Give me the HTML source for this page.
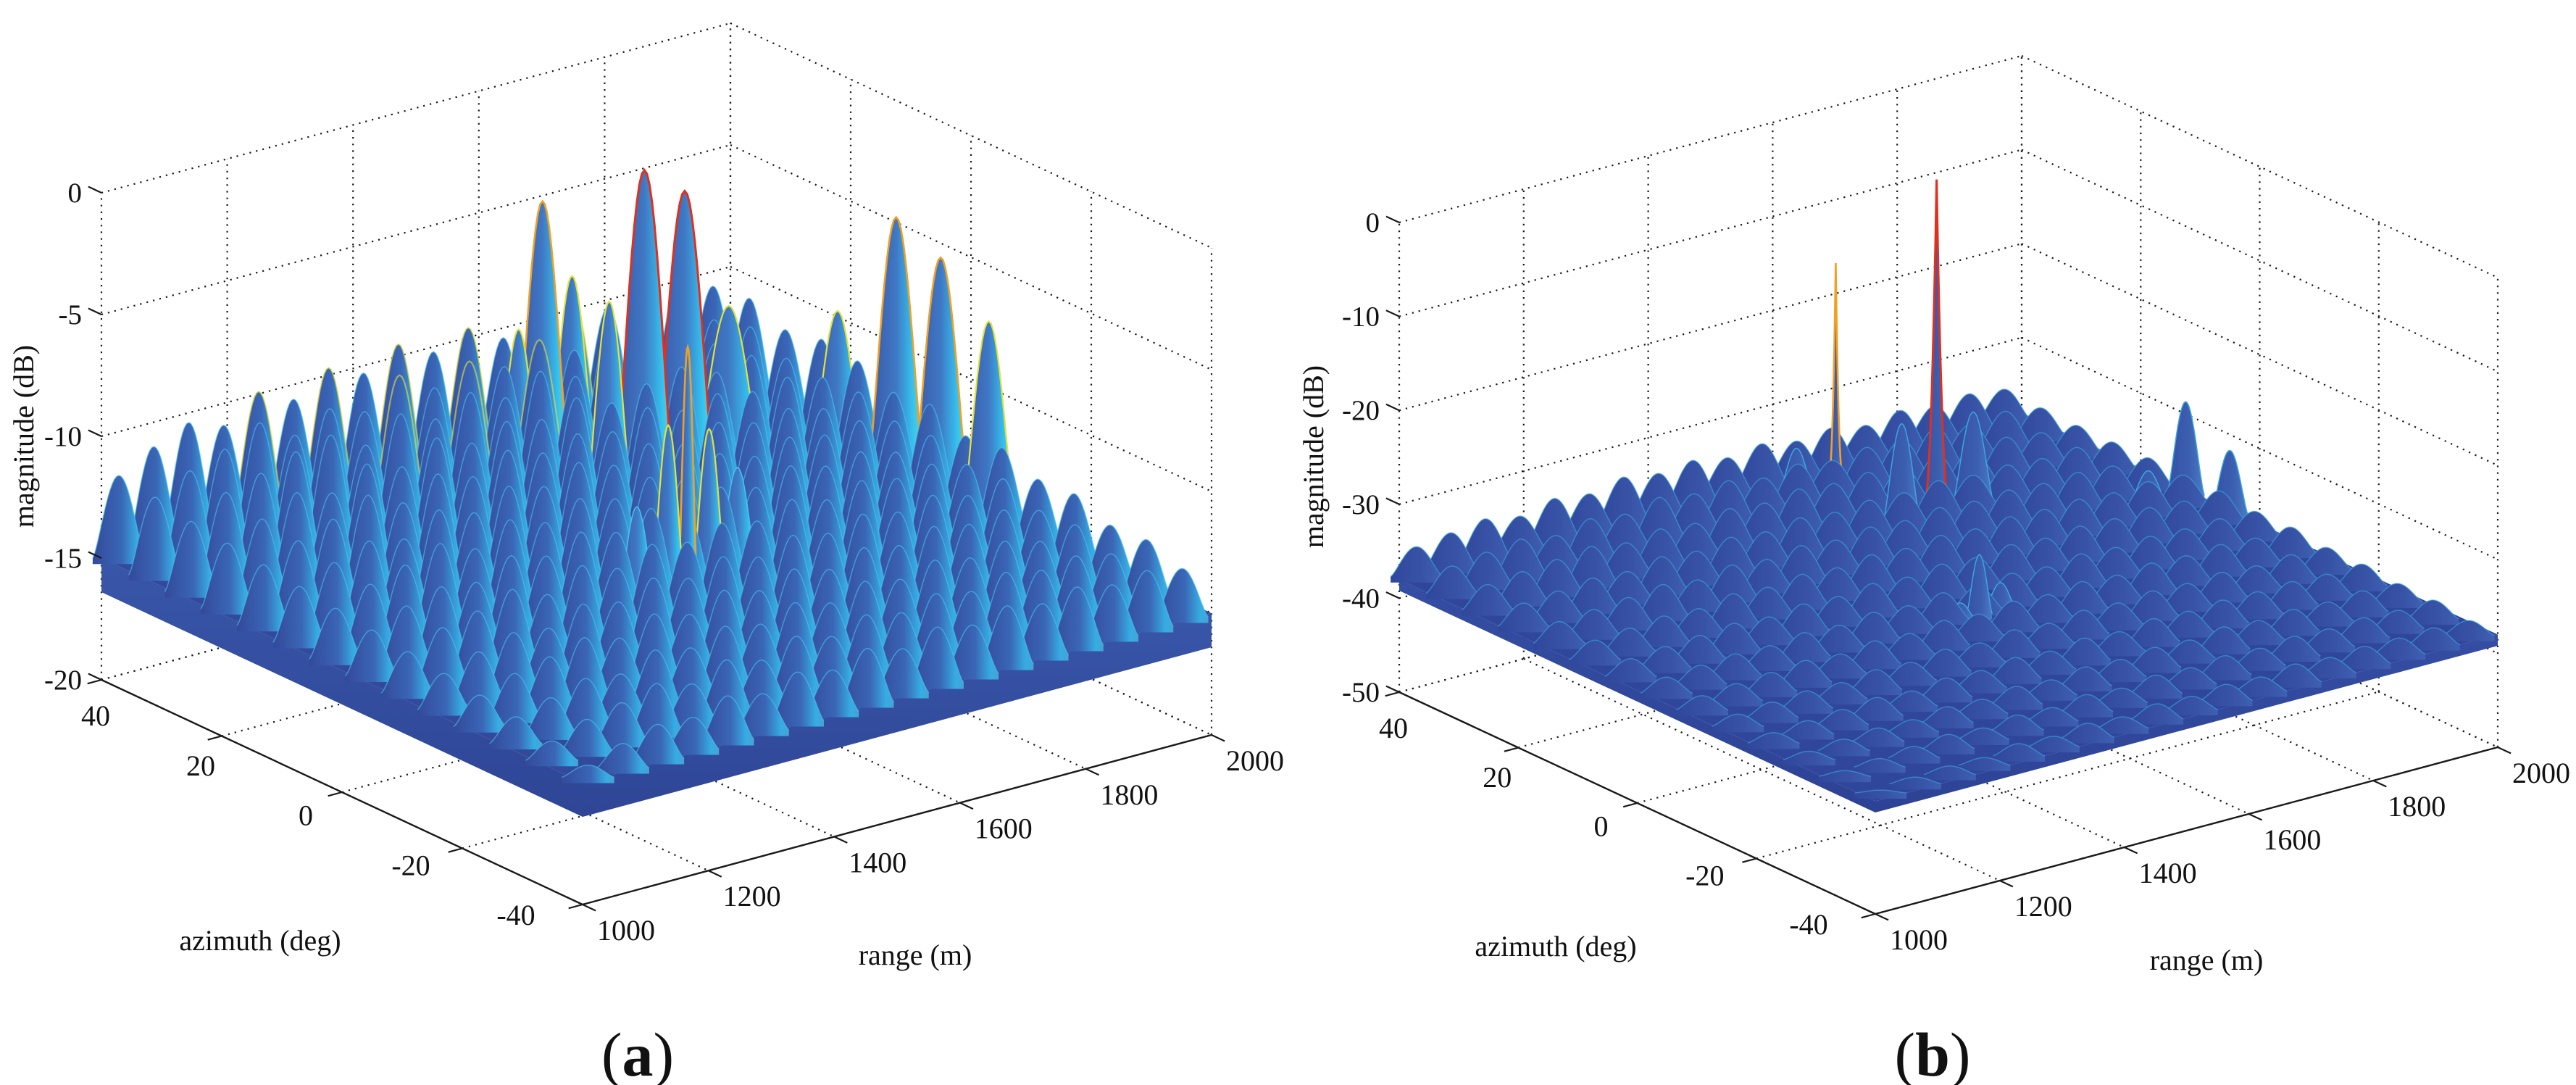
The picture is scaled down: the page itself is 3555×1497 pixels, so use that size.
<!DOCTYPE html>
<html><head><meta charset="utf-8">
<style>
html,body{margin:0;padding:0;background:#fff;}
svg{display:block;}
text{font-family:"Liberation Serif",serif;fill:#111;}
</style></head>
<body>
<svg id="fig" width="3555" height="1497" viewBox="0 0 3555 1497" xmlns="http://www.w3.org/2000/svg">
<defs>
<linearGradient id="gLowA" x1="0" y1="0" x2="1" y2="0">
<stop offset="0" stop-color="#34499a"/><stop offset="0.55" stop-color="#3a66b6"/><stop offset="0.85" stop-color="#36ade3"/><stop offset="1" stop-color="#45a2d4"/></linearGradient>
<linearGradient id="gHighA" x1="0" y1="0" x2="1" y2="0">
<stop offset="0" stop-color="#3a55a6"/><stop offset="0.5" stop-color="#3f78c4"/><stop offset="0.8" stop-color="#34c4f0"/><stop offset="1" stop-color="#8ccfa0"/></linearGradient>
<linearGradient id="gLowB" x1="0" y1="0" x2="1" y2="0">
<stop offset="0" stop-color="#30479b"/><stop offset="0.6" stop-color="#3853a6"/><stop offset="1" stop-color="#3f60b2"/></linearGradient>
<linearGradient id="gHighB" x1="0" y1="0" x2="1" y2="0">
<stop offset="0" stop-color="#3550a4"/><stop offset="0.6" stop-color="#3c5fb0"/><stop offset="1" stop-color="#4a7cc4"/></linearGradient>
<linearGradient id="gFaceA" x1="0" y1="0" x2="0" y2="1">
<stop offset="0" stop-color="#3856a8"/><stop offset="1" stop-color="#2f4596"/></linearGradient>
<linearGradient id="gFaceB" x1="0" y1="0" x2="0" y2="1">
<stop offset="0" stop-color="#344ea3"/><stop offset="1" stop-color="#2d4295"/></linearGradient>
</defs>
</svg>
<script>
// ---------- data ----------
const zTicksA = [-20, -15, -10, -5, 0];
const zTicksB = [-50, -40, -30, -20, -10, 0];
const azTicks = [-40, -20, 0, 20, 40];
const rangeTicks = [1000, 1200, 1400, 1600, 1800, 2000];

const clutterAzA = [40, 34, 28, 22, 16, 10, 4, -2, -8, -14, -20, -26, -32, -38];
const clutterRowsA = [
 [-11.8,-11.0,-10.4,-10.9,-9.9,-10.6,-9.7,-10.3,-9.5,-10.2,-9.6,-10.4,-9.9,-9.6,-10.3,-10.7,-10.1,-10.6],
 [-12.0,-11.3,-10.8,-10.1,-11.0,-10.3,-10.8,-9.7,-10.6,-9.9,-10.5,-9.8,-10.6,-10.1,-10.7,-10.2,-10.9,-10.4],
 [-12.3,-11.5,-11.1,-10.6,-10.3,-11.1,-10.2,-10.8,-10.1,-10.7,-10.0,-10.6,-10.3,-10.9,-10.4,-10.8,-10.5,-11.0],
 [-12.5,-11.9,-11.2,-11.6,-10.8,-11.3,-10.5,-11.1,-10.6,-10.9,-10.4,-11.0,-10.6,-10.3,-10.9,-10.6,-11.1,-10.7],
 [-12.7,-12.1,-11.6,-11.0,-11.7,-10.9,-11.4,-10.7,-11.2,-10.8,-11.1,-10.5,-11.0,-10.7,-11.0,-10.8,-11.2,-10.9],
 [-12.9,-12.3,-11.8,-12.1,-11.3,-11.8,-11.1,-11.5,-10.9,-11.4,-10.9,-11.3,-10.8,-11.2,-11.0,-11.4,-11.1,-11.5],
 [-13.1,-12.5,-12.1,-11.6,-12.2,-11.4,-11.9,-11.3,-11.7,-11.2,-11.6,-11.0,-11.5,-11.1,-11.4,-11.2,-11.6,-11.3],
 [-13.3,-12.7,-12.3,-12.5,-11.8,-12.2,-11.6,-12.0,-11.4,-11.9,-11.3,-11.7,-11.2,-11.6,-11.4,-11.8,-11.5,-11.9],
 [-13.5,-12.9,-12.6,-12.1,-12.7,-11.9,-12.4,-11.8,-12.1,-11.7,-12.0,-11.5,-11.9,-11.5,-11.8,-11.6,-12.0,-11.7],
 [-13.7,-13.2,-12.8,-13.0,-12.4,-12.7,-12.1,-12.5,-12.0,-12.4,-11.9,-12.2,-11.8,-12.1,-11.8,-12.2,-11.9,-12.3],
 [-13.9,-13.4,-13.1,-12.7,-13.1,-12.5,-12.9,-12.3,-12.7,-12.2,-12.6,-12.1,-12.4,-12.0,-12.3,-12.1,-12.5,-12.2],
 [-14.1,-13.7,-13.3,-13.5,-12.9,-13.2,-12.7,-13.0,-12.5,-12.9,-12.4,-12.7,-12.3,-12.6,-12.3,-12.7,-12.4,-12.8],
 [-14.4,-13.9,-13.6,-13.2,-13.6,-13.0,-13.4,-12.8,-13.2,-12.7,-13.0,-12.6,-12.9,-12.5,-12.8,-12.6,-12.9,-12.7],
 [-14.7,-14.2,-13.8,-13.9,-13.4,-13.7,-13.2,-13.5,-13.0,-13.4,-12.9,-13.2,-12.8,-13.1,-12.8,-13.1,-12.9,-13.2]
];
const peakRangeA = [1663, 1696, 1760, 1710, 1640, 1625, 1830, 1990, 1990, 1990, 1960, 1521, 1490, 1555, 1440, 1600];
const peakAzA    = [36, 22.5, 22.5, 36, 22.5, 36, 22.5, 11.4, 4, -4, 18, -3, -3, -3, -3, -3];
const peakDbA    = [-4.5, -1.9, -3.2, -7.9, -6.9, -9.5, -8.4, -4.6, -5.4, -7.1, -9.0, -5.0, -8.0, -8.6, -11.0, -10.5];
const peakWidthA = [70, 80, 80, 60, 60, 55, 90, 75, 75, 70, 70, 25, 45, 45, 50, 55];

const clutterAzB = [40, 34, 28, 22, 16, 10, 4, -2, -8, -14, -20, -26, -32, -38];
const clutterRowsB = [
 [-35.0,-34.5,-34.0,-34.7,-33.8,-34.3,-33.5,-34.1,-33.7,-34.4,-33.9,-34.6,-34.2,-34.9,-34.3,-34.8,-34.5,-35.0],
 [-35.3,-34.8,-34.4,-35.0,-34.2,-34.7,-33.9,-34.5,-34.1,-34.8,-34.3,-34.9,-34.5,-34.7,-34.4,-35.0,-34.6,-35.2],
 [-35.5,-35.1,-34.8,-34.4,-35.0,-34.5,-34.9,-34.3,-34.7,-34.2,-34.6,-34.4,-34.8,-34.5,-35.0,-34.6,-35.1,-35.3],
 [-35.7,-35.4,-35.0,-35.3,-34.7,-35.1,-34.6,-35.0,-34.5,-34.9,-34.6,-34.8,-34.5,-34.9,-34.8,-35.1,-34.9,-35.3],
 [-35.9,-35.6,-35.3,-34.9,-35.4,-34.8,-35.2,-34.7,-35.1,-34.7,-35.0,-34.6,-34.9,-34.7,-35.0,-34.8,-35.1,-35.2],
 [-36.1,-35.8,-35.5,-35.7,-35.1,-35.4,-35.0,-35.3,-34.9,-35.2,-34.8,-35.1,-34.8,-35.0,-34.9,-35.2,-35.0,-35.3],
 [-36.3,-36.0,-35.8,-35.5,-35.8,-35.4,-35.6,-35.2,-35.5,-35.1,-35.4,-35.0,-35.3,-35.0,-35.2,-35.0,-35.3,-35.2],
 [-36.5,-36.2,-36.0,-36.1,-35.7,-35.9,-35.5,-35.8,-35.4,-35.7,-35.3,-35.6,-35.2,-35.5,-35.3,-35.5,-35.4,-35.6],
 [-36.7,-36.4,-36.2,-35.9,-36.2,-35.8,-36.0,-35.6,-35.9,-35.5,-35.8,-35.4,-35.7,-35.4,-35.6,-35.4,-35.7,-35.5],
 [-36.9,-36.6,-36.4,-36.5,-36.1,-36.3,-35.9,-36.2,-35.8,-36.1,-35.7,-35.9,-35.6,-35.8,-35.6,-35.9,-35.7,-35.9],
 [-37.1,-36.8,-36.6,-36.3,-36.6,-36.2,-36.4,-36.0,-36.3,-35.9,-36.2,-35.8,-36.0,-35.8,-35.9,-35.8,-36.0,-35.9],
 [-37.3,-37.0,-36.8,-36.9,-36.5,-36.7,-36.3,-36.6,-36.2,-36.4,-36.1,-36.3,-35.9,-36.2,-36.0,-36.2,-36.0,-36.2],
 [-37.6,-37.3,-37.0,-36.7,-37.0,-36.6,-36.8,-36.4,-36.7,-36.3,-36.5,-36.2,-36.4,-36.1,-36.3,-36.1,-36.3,-36.2],
 [-37.9,-37.5,-37.3,-37.4,-36.9,-37.1,-36.7,-37.0,-36.6,-36.8,-36.5,-36.7,-36.3,-36.6,-36.4,-36.5,-36.4,-36.6]
];
const peakRangeB = [1663, 1696, 1640, 1755, 1710, 1600, 1990, 1930, 1990, 1521, 1490, 1555];
const peakAzB    = [36, 22.5, 22.5, 22.5, 36, 36, 11.4, 11.4, 4, -3, -3, -3];
const peakDbB    = [-14.9, -2.6, -27.6, -28.4, -36.4, -33.5, -28.2, -34.5, -31.2, -31.9, -36.5, -35.5];
const peakWidthB = [22, 40, 50, 55, 50, 45, 50, 50, 50, 34, 40, 40];

// ---------- rendering ----------
const NS = 'http://www.w3.org/2000/svg';
const svg = document.getElementById('fig');
function mk(tag, parent) { const e = document.createElementNS(NS, tag); parent.appendChild(e); return e; }

function makeProj(P) {
  return function (r, az, z) {
    const a = (r - 1000) / 1000, b = (40 - az) / 80, zf = (z - P.zmin) / (P.zmax - P.zmin);
    return [P.L[0] + a * P.R[0] + b * P.A[0], P.L[1] + a * P.R[1] + b * P.A[1] - zf * P.H];
  };
}

function line(g, p, q, dotted, w) {
  const l = mk('line', g);
  l.setAttribute('x1', p[0].toFixed(1)); l.setAttribute('y1', p[1].toFixed(1));
  l.setAttribute('x2', q[0].toFixed(1)); l.setAttribute('y2', q[1].toFixed(1));
  l.setAttribute('stroke', '#1a1a1a');
  l.setAttribute('stroke-width', w || 2.2);
  if (dotted) l.setAttribute('stroke-dasharray', '2.2 7');
  return l;
}

function text(g, x, y, s, size, anchor) {
  const t = mk('text', g);
  t.setAttribute('x', x.toFixed(1)); t.setAttribute('y', y.toFixed(1));
  t.setAttribute('font-size', size);
  t.setAttribute('text-anchor', anchor || 'middle');
  t.textContent = s;
  return t;
}

function poly(g, pts, fill) {
  const p = mk('path', g);
  p.setAttribute('d', 'M' + pts.map(q => q[0].toFixed(1) + ',' + q[1].toFixed(1)).join('L') + 'Z');
  p.setAttribute('fill', fill);
  return p;
}

function drawPanel(P, zTicks, clAz, clRows, pr, pa, pd, pw, name) {
  const proj = makeProj(P);
  const g = mk('g', svg);
  
  

  const grid = mk('g', g);
  
  
  zTicks.forEach(z => {
    line(grid, proj(1000, 40, z), proj(2000, 40, z), true);
    line(grid, proj(2000, 40, z), proj(2000, -40, z), true);
  });
  rangeTicks.forEach(r => {
    line(grid, proj(r, 40, P.zmin), proj(r, 40, P.zmax), true);
    line(grid, proj(r, 40, P.zmin), proj(r, -40, P.zmin), true);
  });
  azTicks.forEach(az => {
    line(grid, proj(2000, az, P.zmin), proj(2000, az, P.zmax), true);
    line(grid, proj(1000, az, P.zmin), proj(2000, az, P.zmin), true);
  });

  const surf = mk('g', g);
  
  
  const top = P.slabTop, bot = P.slabBot;
  const topFace = poly(surf, [proj(1000, 40, top), proj(2000, 40, top), proj(2000, -40, top), proj(1000, -40, top)], P.topColor);
  
  
  const leftFace = poly(surf, [proj(1000, 40, top), proj(1000, -40, top), proj(1000, -40, bot), proj(1000, 40, bot)], P.faceColor);
  
  
  const rightFace = poly(surf, [proj(1000, -40, top), proj(2000, -40, top), proj(2000, -40, bot), proj(1000, -40, bot)], P.faceColor);
  
  

  const lobes = [];
  clAz.forEach((az, ri) => {
    const row = clRows[ri], n = row.length;
    const step = 1000 / n;
    row.forEach((db, i) => {
      lobes.push({ r: 1000 + (i + 0.5) * step, az: az, db: db, hw: 0.75 * step * P.R[0] / 1000, peak: false });
    });
  });
  pr.forEach((r, i) => {
    lobes.push({ r: r, az: pa[i], db: pd[i], hw: pw[i] * P.R[0] / 1000 / 2 * 1.2, peak: true });
  });
  lobes.forEach(o => { o.depth = (o.r - 1000) / 1000 + (o.az + 40) / 80; });
  lobes.sort((u, v) => v.depth - u.depth);

  lobes.forEach(o => {
    const c = proj(o.r, o.az, top - 0.2);
    const ty = proj(o.r, o.az, o.db)[1];
    const h = c[1] - ty;
    const spike = o.peak && (o.db - top) > P.spikeDb;
    const pts = [];
    for (let i = 0; i <= 24; i++) {
      const t = -1 + i / 12;
      const f = spike ? Math.pow(1 - Math.abs(t), 2.6) : Math.pow(Math.max(0, Math.cos(t * Math.PI / 2)), 1.3);
      pts.push([c[0] + t * o.hw, c[1] - h * f]);
    }
    const fillPts = pts.concat([[c[0] + o.hw, c[1] + 8], [c[0] - o.hw, c[1] + 8]]);
    const body = poly(surf, fillPts, o.peak ? P.gradHigh : P.gradLow);
    
    
    const edge = mk('path', surf);
    edge.setAttribute('d', 'M' + pts.map(q => q[0].toFixed(1) + ',' + q[1].toFixed(1)).join('L'));
    edge.setAttribute('fill', 'none');
    let col = P.edgeColor, w = 1.5;
    const rel = (o.db - P.zmin) / (P.zmax - P.zmin);
    if (rel > 0.82) { col = '#e0301e'; w = 3; }
    else if (rel > 0.68) { col = '#f2a024'; w = 2.6; }
    else if (rel > P.yellowRel) { col = '#e2e23a'; w = 2.2; }
    edge.setAttribute('stroke', col);
    edge.setAttribute('stroke-width', w);
    edge.setAttribute('stroke-opacity', o.peak ? 1 : 0.6);
    
    
  });

  const ax = mk('g', g);
  
  
  const azAxis = line(ax, proj(1000, 40, P.zmin), proj(1000, -40, P.zmin), false, 2.4);
  
  
  const rAxis = line(ax, proj(1000, -40, P.zmin), proj(2000, -40, P.zmin), false, 2.4);
  
  
  const An = Math.hypot(P.A[0], P.A[1]), Rn = Math.hypot(P.R[0], P.R[1]);
  const ad = [P.A[0] / An, P.A[1] / An], rd = [P.R[0] / Rn, P.R[1] / Rn];

  zTicks.forEach(z => {
    const p = proj(1000, 40, z);
    line(ax, p, [p[0] - 20 * ad[0], p[1] - 20 * ad[1]], false, 2.2);
    const t = text(ax, P.L[0] - 27, p[1] + 13, String(z), 39, 'end');
    
    
  });
  azTicks.forEach(az => {
    const p = proj(1000, az, P.zmin);
    line(ax, p, [p[0] - 20 * rd[0], p[1] - 20 * rd[1]], false, 2.2);
    const b = (40 - az) / 80;
    const t = text(ax, p[0] - 8 - 84 * b, p[1] + 50 - 35 * b + 13, String(az), 40, 'middle');
    
    
  });
  rangeTicks.forEach(r => {
    const p = proj(r, -40, P.zmin);
    line(ax, p, [p[0] + 20 * ad[0], p[1] + 20 * ad[1]], false, 2.2);
    const t = text(ax, p[0] + 60, p[1] + 36 + 13, String(r), 40, 'middle');
    
    
  });

  const zt = text(ax, 0, 0, 'magnitude (dB)', 40, 'middle');
  zt.setAttribute('transform', 'translate(' + (P.zTitle[0] + 8) + ',' + P.zTitle[1] + ') rotate(-90)');
  
  
  const at = text(ax, P.azTitle[0], P.azTitle[1] + 13, 'azimuth (deg)', 40, 'middle');
  
  
  const rt = text(ax, P.rTitle[0], P.rTitle[1] + 13, 'range (m)', 40, 'middle');
  
  

  const cap = mk('text', g);
  cap.setAttribute('x', P.cap[0]); cap.setAttribute('y', P.cap[1]);
  cap.setAttribute('font-size', 86);
  cap.setAttribute('text-anchor', 'middle');
  
  
  const s1 = mk('tspan', cap); s1.textContent = '(';
  const s2 = mk('tspan', cap); s2.setAttribute('font-weight', 'bold'); s2.textContent = P.capLetter;
  const s3 = mk('tspan', cap); s3.textContent = ')';
}

drawPanel({
  L: [140, 938], R: [868, -234], A: [664, 310], H: 672, zmin: -20, zmax: 0,
  slabTop: -15, slabBot: -16.4, topColor: '#33499b', faceColor: 'url(#gFaceA)',
  gradLow: 'url(#gLowA)', gradHigh: 'url(#gHighA)', edgeColor: '#46c4f0', spikeDb: 20, yellowRel: 0.5,
  zTitle: [38, 602], azTitle: [359, 1298], rTitle: [1263, 1318], cap: [880, 1484], capLetter: 'a'
}, zTicksA, clutterAzA, clutterRowsA, peakRangeA, peakAzA, peakDbA, peakWidthA, 'panel-a');

drawPanel({
  L: [1931, 955], R: [859, -230], A: [657, 306], H: 648, zmin: -50, zmax: 0,
  slabTop: -38, slabBot: -39.2, topColor: '#30469b', faceColor: 'url(#gFaceB)',
  gradLow: 'url(#gLowB)', gradHigh: 'url(#gHighB)', edgeColor: '#3aa6e0', spikeDb: 12, yellowRel: 0.55,
  zTitle: [1818, 630], azTitle: [2147, 1306], rTitle: [3045, 1325], cap: [2667, 1484], capLetter: 'b'
}, zTicksB, clutterAzB, clutterRowsB, peakRangeB, peakAzB, peakDbB, peakWidthB, 'panel-b');
</script>
</body></html>
